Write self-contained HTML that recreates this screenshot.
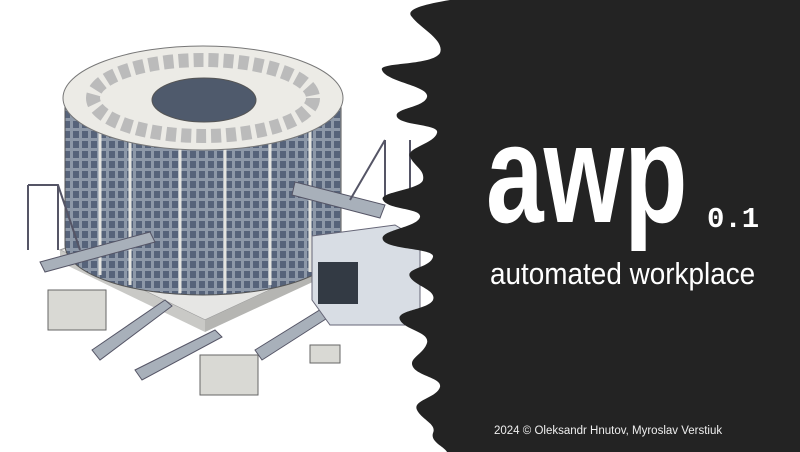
<!DOCTYPE html>
<html><head><meta charset="utf-8"><style>
html,body{margin:0;padding:0}
body{width:800px;height:452px;overflow:hidden;background:#fff;position:relative;font-family:"Liberation Sans",sans-serif}
svg{position:absolute;left:0;top:0}
.t{position:absolute;color:#fff;white-space:nowrap;transform-origin:0 0}
</style></head><body>
<svg width="800" height="452" viewBox="0 0 800 452">
<defs>
<pattern id="win" width="9" height="10" patternUnits="userSpaceOnUse">
<rect width="9" height="10" fill="#8d98a8"/><rect x="1" y="1" width="6" height="7" fill="#56637a"/></pattern>
</defs>
<polygon points="60,250 205,320 345,255 200,200" fill="#e6e6e4" stroke="#999" />
<polygon points="60,250 205,320 205,332 60,262" fill="#c9c9c6"/>
<polygon points="205,320 345,255 345,267 205,332" fill="#b5b5b2"/>
<path d="M65,100 L65,245 A138,50 0 0 0 341,245 L341,100 Z" fill="url(#win)"/>
<path d="M65,100 L65,245 A138,50 0 0 0 341,245 L341,100 Z" fill="none" stroke="#555"/>
<g stroke="#e4e4e0" stroke-width="3">
<line x1="100" y1="130" x2="100" y2="275"/><line x1="130" y1="140" x2="130" y2="285"/>
<line x1="180" y1="148" x2="180" y2="293"/><line x1="225" y1="148" x2="225" y2="293"/>
<line x1="270" y1="140" x2="270" y2="285"/><line x1="310" y1="128" x2="310" y2="272"/>
</g>
<ellipse cx="203" cy="98" rx="140" ry="52" fill="#ecebe6" stroke="#777"/>
<ellipse cx="203" cy="98" rx="110" ry="38" fill="none" stroke="#bbb" stroke-width="14" stroke-dasharray="10 5"/>
<ellipse cx="204" cy="100" rx="52" ry="22" fill="#4f5a6c" stroke="#555"/>
<g fill="#a8b0ba" stroke="#556">
<polygon points="40,262 150,232 155,242 45,272"/>
<polygon points="295,182 385,205 380,218 292,195"/>
<polygon points="92,350 165,300 172,306 100,360"/>
<polygon points="135,370 215,330 222,337 142,380"/>
<polygon points="255,350 360,285 368,292 262,360"/>
</g>
<polygon points="312,236 395,225 420,240 420,325 330,325 312,300" fill="#d8dde4" stroke="#667"/>
<rect x="318" y="262" width="40" height="42" fill="#333a44"/>
<g fill="#d9d9d4" stroke="#666">
<rect x="48" y="290" width="58" height="40"/>
<rect x="200" y="355" width="58" height="40"/>
<rect x="310" y="345" width="30" height="18"/>
</g>
<g stroke="#556" fill="none" stroke-width="2">
<path d="M28,185 L28,250 M58,185 L58,250 M28,185 L58,185 L80,250"/>
<path d="M385,140 L385,200 M410,140 L410,200 M385,140 L350,200"/>
</g>
<path fill="#232323" d="M450,0 C420,5 405,10 412,17 C420,28 445,40 440,53 C432,66 378,62 382,70 C386,82 430,86 427,97 C424,108 393,108 397,117 C402,126 440,124 437,133 C434,144 405,148 410,157 C415,167 425,170 423,180 C420,190 378,192 383,200 C388,210 422,208 420,217 C417,228 378,230 383,240 C388,250 435,248 433,257 C430,268 405,268 410,277 C415,286 437,290 433,300 C428,310 395,310 400,320 C405,330 430,332 427,343 C423,355 408,358 413,367 C418,376 442,378 440,387 C437,398 412,400 417,410 C422,420 437,424 433,433 C430,442 445,447 447,452 L800,452 L800,0 Z"/>
</svg>
<div class="t" style="left:486px;top:104px;font-size:140px;line-height:1;font-weight:bold;transform:scaleX(0.74)">awp</div>
<div class="t" style="left:707px;top:205px;font-size:29px;line-height:1;font-weight:bold;font-family:'Liberation Mono',monospace">0.1</div>
<div class="t" style="left:490px;top:258px;font-size:31px;line-height:1;transform:scaleX(0.9)">automated workplace</div>
<div class="t" style="left:494px;top:426px;font-size:11.5px;line-height:1;color:#eee">2024 © Oleksandr Hnutov, Myroslav Verstiuk</div>
</body></html>
